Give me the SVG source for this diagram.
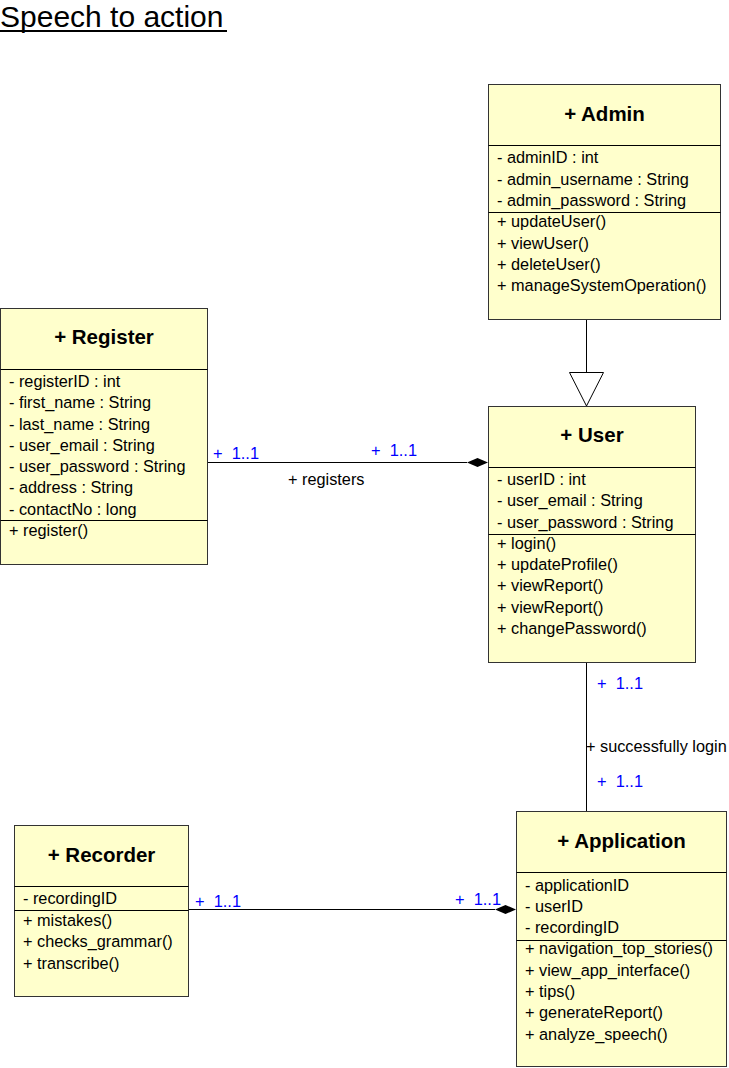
<svg xmlns="http://www.w3.org/2000/svg" width="729" height="1068" viewBox="0 0 729 1068">
  <style>
    .box { fill: #ffffcc; stroke: #333333; stroke-width: 1; }
    .div { stroke: #000000; stroke-width: 1; }
    .title { font-family: "Liberation Sans", Arial, sans-serif; font-size: 20.5px; font-weight: bold; fill: #000000; text-anchor: middle; }
    .member { font-family: "Liberation Sans", Arial, sans-serif; font-size: 16.3px; fill: #000000; }
    .line { stroke: #000000; stroke-width: 1; fill: none; }
    .mult { font-family: "Liberation Sans", Arial, sans-serif; font-size: 16.4px; fill: #0000ff; white-space: pre; }
    .role { font-family: "Liberation Sans", Arial, sans-serif; font-size: 16.3px; fill: #000000; }
  </style>

  <rect width="729" height="1068" fill="#ffffff"/>

  <!-- Heading -->
  <g id="heading">
    <text x="0" y="27" font-family="Liberation Sans, Arial, sans-serif" font-size="30" fill="#000000">Speech to action</text>
    <line x1="0" y1="31" x2="227" y2="31" stroke="#000000" stroke-width="2"/>
  </g>

  <!-- Connectors -->
  <g id="connectors">
    <!-- Admin generalization (User -> Admin) -->
    <line class="line" x1="586.5" y1="319" x2="586.5" y2="372.5"/>
    <polygon points="569.5,372.5 603.5,372.5 586.5,406" fill="#ffffff" stroke="#000000" stroke-width="1"/>

    <!-- Register - User composition -->
    <line class="line" x1="207" y1="462.5" x2="467" y2="462.5"/>
    <polygon points="467,462.5 477.5,458 488,462.5 477.5,467" fill="#000000"/>
    <text class="mult" x="213" y="459" xml:space="preserve">+  1..1</text>
    <text class="mult" x="371" y="456" xml:space="preserve">+  1..1</text>
    <text class="role" x="288" y="485">+ registers</text>

    <!-- User - Application association -->
    <line class="line" x1="586.5" y1="662" x2="586.5" y2="811"/>
    <text class="mult" x="597" y="689" xml:space="preserve">+  1..1</text>
    <text class="role" x="586" y="752">+ successfully login</text>
    <text class="mult" x="597" y="787" xml:space="preserve">+  1..1</text>

    <!-- Recorder - Application composition -->
    <line class="line" x1="188" y1="909.5" x2="495" y2="909.5"/>
    <polygon points="495,909.5 505.5,905 516,909.5 505.5,914" fill="#000000"/>
    <text class="mult" x="195" y="907" xml:space="preserve">+  1..1</text>
    <text class="mult" x="455" y="905" xml:space="preserve">+  1..1</text>
  </g>

  <!-- Admin -->
  <g id="admin">
    <rect class="box" x="488.5" y="84.5" width="232" height="235"/>
    <line class="div" x1="488.5" y1="145.5" x2="720.5" y2="145.5"/>
    <line class="div" x1="488.5" y1="212.5" x2="720.5" y2="212.5"/>
    <text class="title" x="604.5" y="121">+ Admin</text>
    <text class="member" x="497" y="163">- adminID : int</text>
    <text class="member" x="497" y="184.5">- admin_username : String</text>
    <text class="member" x="497" y="206">- admin_password : String</text>
    <text class="member" x="497" y="227">+ updateUser()</text>
    <text class="member" x="497" y="248.5">+ viewUser()</text>
    <text class="member" x="497" y="270">+ deleteUser()</text>
    <text class="member" x="497" y="291">+ manageSystemOperation()</text>
  </g>

  <!-- Register -->
  <g id="register">
    <rect class="box" x="0.5" y="308.5" width="207" height="256"/>
    <line class="div" x1="0.5" y1="369.5" x2="207.5" y2="369.5"/>
    <line class="div" x1="0.5" y1="520.5" x2="207.5" y2="520.5"/>
    <text class="title" x="104" y="344">+ Register</text>
    <text class="member" x="9" y="387">- registerID : int</text>
    <text class="member" x="9" y="408">- first_name : String</text>
    <text class="member" x="9" y="430">- last_name : String</text>
    <text class="member" x="9" y="451">- user_email : String</text>
    <text class="member" x="9" y="472">- user_password : String</text>
    <text class="member" x="9" y="493">- address : String</text>
    <text class="member" x="9" y="515">- contactNo : long</text>
    <text class="member" x="9" y="536">+ register()</text>
  </g>

  <!-- User -->
  <g id="user">
    <rect class="box" x="488.5" y="406.5" width="207" height="256"/>
    <line class="div" x1="488.5" y1="467.5" x2="695.5" y2="467.5"/>
    <line class="div" x1="488.5" y1="534.5" x2="695.5" y2="534.5"/>
    <text class="title" x="592" y="442">+ User</text>
    <text class="member" x="497" y="485">- userID : int</text>
    <text class="member" x="497" y="506">- user_email : String</text>
    <text class="member" x="497" y="528">- user_password : String</text>
    <text class="member" x="497" y="549">+ login()</text>
    <text class="member" x="497" y="570">+ updateProfile()</text>
    <text class="member" x="497" y="591">+ viewReport()</text>
    <text class="member" x="497" y="613">+ viewReport()</text>
    <text class="member" x="497" y="634">+ changePassword()</text>
  </g>

  <!-- Recorder -->
  <g id="recorder">
    <rect class="box" x="14.5" y="825.5" width="174" height="171"/>
    <line class="div" x1="14.5" y1="886.5" x2="188.5" y2="886.5"/>
    <line class="div" x1="14.5" y1="910.5" x2="188.5" y2="910.5"/>
    <text class="title" x="101.5" y="862">+ Recorder</text>
    <text class="member" x="23" y="904">- recordingID</text>
    <text class="member" x="23" y="926">+ mistakes()</text>
    <text class="member" x="23" y="947">+ checks_grammar()</text>
    <text class="member" x="23" y="969">+ transcribe()</text>
  </g>

  <!-- Application -->
  <g id="application">
    <rect class="box" x="516.5" y="811.5" width="210" height="255"/>
    <line class="div" x1="516.5" y1="872.5" x2="726.5" y2="872.5"/>
    <line class="div" x1="516.5" y1="940.5" x2="726.5" y2="940.5"/>
    <text class="title" x="621.5" y="848">+ Application</text>
    <text class="member" x="525" y="891">- applicationID</text>
    <text class="member" x="525" y="912">- userID</text>
    <text class="member" x="525" y="933">- recordingID</text>
    <text class="member" x="525" y="954">+ navigation_top_stories()</text>
    <text class="member" x="525" y="976">+ view_app_interface()</text>
    <text class="member" x="525" y="997">+ tips()</text>
    <text class="member" x="525" y="1018">+ generateReport()</text>
    <text class="member" x="525" y="1040">+ analyze_speech()</text>
  </g>
</svg>
